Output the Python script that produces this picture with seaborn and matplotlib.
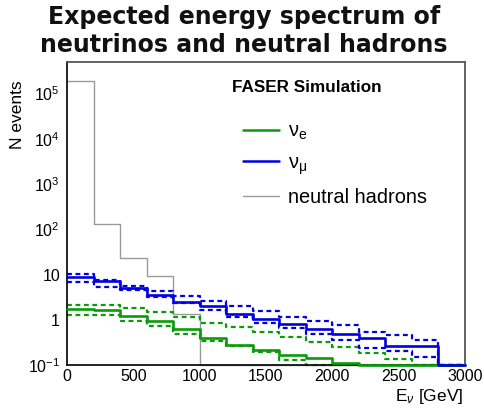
import numpy as np
import pandas as pd
import matplotlib
matplotlib.use("Agg")
import matplotlib.pyplot as plt
import seaborn as sns
from matplotlib.lines import Line2D
from matplotlib.ticker import LogLocator, MultipleLocator, FixedLocator, NullFormatter

# ---------------- data ----------------
bin_edges = [0, 200, 400, 600, 800, 1000, 1200, 1400, 1600, 1800, 2000,
             2200, 2400, 2600, 2800, 3000]
nu_e = [1.75, 1.65, 1.22, 0.92, 0.63, 0.40, 0.28, 0.21, 0.17, 0.14, 0.11,
        0.09, 0.08, 0.07, 0.05]
nu_e_up = [2.15, 2.15, 1.84, 1.46, 1.16, 0.86, 0.68, 0.53, 0.41, 0.33, 0.25,
           0.18, 0.135, 0.10, 0.06]
nu_e_lo = [1.28, 1.28, 0.94, 0.74, 0.48, 0.34, 0.26, 0.19, 0.13, 0.09, 0.08,
           0.07, 0.06, 0.05, 0.04]
nu_mu = [8.9, 7.2, 5.1, 3.6, 2.5, 2.05, 1.35, 1.05, 0.82, 0.64, 0.49,
         0.40, 0.267, 0.267, 0.05]
nu_mu_up = [10.3, 7.7, 5.5, 4.4, 3.3, 2.6, 2.0, 1.53, 1.16, 0.92, 0.76,
            0.53, 0.45, 0.35, 0.05]
nu_mu_lo = [7.0, 5.3, 4.5, 3.2, 2.35, 1.65, 1.13, 0.86, 0.67, 0.48, 0.36,
            0.24, 0.20, 0.15, 0.04]
hadrons = [1.87e5, 133, 23.7, 9.5, 1.35, 0, 0, 0, 0, 0, 0, 0, 0, 0, 0]

y_ticks = [0.1, 1, 10, 100, 1e3, 1e4, 1e5]
y_tick_labels = [r"$10^{-1}$", "1", "10", r"$10^{2}$", r"$10^{3}$",
                 r"$10^{4}$", r"$10^{5}$"]
x_ticks = [0, 500, 1000, 1500, 2000, 2500, 3000]
x_tick_labels = ["0", "500", "1000", "1500", "2000", "2500", "3000"]

title = "Expected energy spectrum of\nneutrinos and neutral hadrons"
legend_labels = [r"$\mathrm{\nu_{e}}$", r"$\mathrm{\nu_{\mu}}$", "neutral hadrons"]

# ---------------- style ----------------
sns.set_style("white")
plt.rcParams["font.family"] = ["Liberation Sans", "DejaVu Sans"]
plt.rcParams["mathtext.fontset"] = "custom"
plt.rcParams["mathtext.rm"] = "Liberation Sans"
plt.rcParams["mathtext.it"] = "Liberation Sans:italic"
plt.rcParams["mathtext.bf"] = "Liberation Sans:bold"
plt.rcParams["text.color"] = "black"

GREEN = "#0a9a0a"
BLUE = "#0000e0"
GRAY = "#9a9a9a"
YMIN, YMAX = 0.1, 5e5

fig = plt.figure(figsize=(4.85, 4.13), dpi=100)
ax = fig.add_axes([67 / 485, 1 - 365 / 413, 398 / 485, 303 / 413])
ax.set_yscale("log")


def step(vals, color, lw, ls="-", z=2):
    v = np.clip(np.asarray(vals, dtype=float), YMIN, None)
    df = pd.DataFrame({"E": bin_edges, "N": np.append(v, v[-1])})
    sns.lineplot(data=df, x="E", y="N", ax=ax, drawstyle="steps-post",
                 estimator=None, sort=False, color=color, lw=lw,
                 linestyle=ls, legend=False, zorder=z, clip_on=False)


dash = (0, (2.2, 1.6))
step(hadrons, GRAY, 1.0, z=1)
step(nu_e_up, GREEN, 1.6, dash)
step(nu_e_lo, GREEN, 1.6, dash)
step(nu_mu_up, BLUE, 1.6, dash)
step(nu_mu_lo, BLUE, 1.6, dash)
step(nu_e, GREEN, 1.9, z=3)
step(nu_mu, BLUE, 1.9, z=3)

ax.set_xlim(0, 3000)
ax.set_ylim(YMIN, YMAX)
ax.set_xlabel("")
ax.set_ylabel("")

ax.yaxis.set_major_locator(FixedLocator(y_ticks))
ax.set_yticklabels(y_tick_labels)
ax.yaxis.set_minor_locator(LogLocator(base=10, subs=np.arange(2, 10), numticks=20))
ax.yaxis.set_minor_formatter(NullFormatter())
ax.set_xticks(x_ticks)
ax.set_xticklabels(x_tick_labels)
ax.xaxis.set_minor_locator(MultipleLocator(100))

ax.tick_params(axis="both", which="both", direction="in", colors="#222222",
               labelcolor="black", labelsize=11.5)
ax.tick_params(axis="y", which="major", length=9, width=1.0, pad=5)
ax.tick_params(axis="y", which="minor", length=4.5, width=0.8)
ax.tick_params(axis="x", which="major", length=6, width=1.0, pad=3)
ax.tick_params(axis="x", which="minor", length=3.5, width=0.8)
for s in ax.spines.values():
    s.set_visible(True)
    s.set_color("#555555")
    s.set_linewidth(1.3)
ax.spines["left"].set_color("#111111")
ax.spines["bottom"].set_color("#111111")

# legend
handles = [Line2D([], [], color=GREEN, lw=1.8),
           Line2D([], [], color=BLUE, lw=1.8),
           Line2D([], [], color=GRAY, lw=1.0)]
fig.legend(handles, legend_labels, loc="upper left",
           bbox_to_anchor=(243 / 485, 1 - 122 / 413), frameon=False,
           fontsize=14.4, handlelength=1.8, handletextpad=0.45,
           labelspacing=0.55, borderpad=0, borderaxespad=0,
           labelcolor="black")

fig.text(232 / 485, 1 - 88 / 413, "FASER Simulation", ha="left", va="center",
         fontsize=12.3, fontweight="bold", color="black")

fig.text(18 / 485, 1 - 80 / 413, "N events", rotation=90, ha="center",
         va="top", fontsize=12.5, color="black")
fig.text(463 / 485, 1 - 397 / 413, r"E$_{\nu}$ [GeV]", ha="right",
         va="center", fontsize=12.5, color="black")

fig.text(0.503, 1 - 31 / 413, title, ha="center", va="center",
         fontsize=17, fontweight="bold", linespacing=1.2,
         family=["DejaVu Sans"], color="#111111")

fig.savefig("out.png", dpi=100, facecolor="white")
